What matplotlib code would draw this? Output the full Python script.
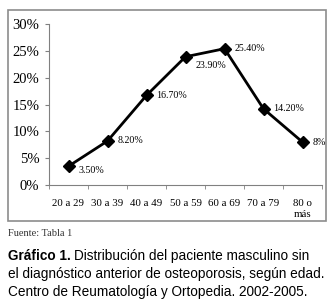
import matplotlib.pyplot as plt
from matplotlib.patches import Rectangle

categories = ["20 a 29", "30 a 39", "40 a 49", "50 a 59", "60 a 69", "70 a 79", "80 o\nmás"]
values = [3.5, 8.2, 16.7, 23.9, 25.4, 14.2, 8.0]
value_labels = ["3.50%", "8.20%", "16.70%", "23.90%", "25.40%", "14.20%", "8%"]
label_dy = [-3, 0, 0, -6, 0, 0, 0]

serif = "Liberation Serif"
sans = "Liberation Sans"

fig = plt.figure(figsize=(3.33, 3.07), dpi=100)
W, H = 333, 307

# gray frame around chart
fig.patches.append(Rectangle((8 / W, 1 - 221 / H), 318 / W, 211 / H,
                             transform=fig.transFigure, fill=False,
                             edgecolor="#8c8c8c", linewidth=1.2))

ax = fig.add_axes([49 / W, 1 - 185 / H, 273 / W, 161 / H])
x = list(range(len(categories)))
ax.plot(x, values, color="black", linewidth=2, marker="D", markersize=6.5,
        clip_on=False)
for xi, v, lab, dy in zip(x, values, value_labels, label_dy):
    ax.annotate(lab, (xi, v), xytext=(7, dy), textcoords="offset points",
                ha="left", va="center", fontsize=7.2, family=serif)

ax.set_xlim(-0.5, len(categories) - 0.5)
ax.set_ylim(0, 30)
ax.set_yticks(range(0, 31, 5))
ax.set_yticklabels([f"{t}%" for t in range(0, 31, 5)], family=serif, fontsize=10.5)
ax.set_xticks(x)
ax.set_xticklabels(categories, family=serif, fontsize=7.8, va="top",
                   linespacing=1.3)
ax.set_xticks([i - 0.5 for i in range(len(categories) + 1)], minor=True)
ax.tick_params(axis="x", which="major", length=0, pad=10)
ax.tick_params(axis="x", which="minor", length=3, color="#808080")
ax.tick_params(axis="y", length=3, color="#808080", pad=4)
for s in ("top", "right"):
    ax.spines[s].set_visible(False)
for s in ("left", "bottom"):
    ax.spines[s].set_color("#808080")

fig.text(8 / W, 1 - 233 / H, "Fuente: Tabla 1", family=serif, fontsize=7.5,
         va="center", color="#333333")

cap_size = 9.8
bold = fig.text(8 / W, 1 - 256 / H, "Gráfico 1.", family=sans, fontsize=cap_size,
                fontweight="bold", va="center")
renderer = fig.canvas.get_renderer()
bx = bold.get_window_extent(renderer).x1
fig.text(bx / W + 3 / W, 1 - 256 / H, "Distribución del paciente masculino sin",
         family=sans, fontsize=cap_size, va="center")
fig.text(8 / W, 1 - 274 / H, "el diagnóstico anterior de osteoporosis, según edad.",
         family=sans, fontsize=cap_size, va="center")
fig.text(8 / W, 1 - 292 / H, "Centro de Reumatología y Ortopedia. 2002-2005.",
         family=sans, fontsize=cap_size, va="center")

fig.savefig("out.png", dpi=100)
